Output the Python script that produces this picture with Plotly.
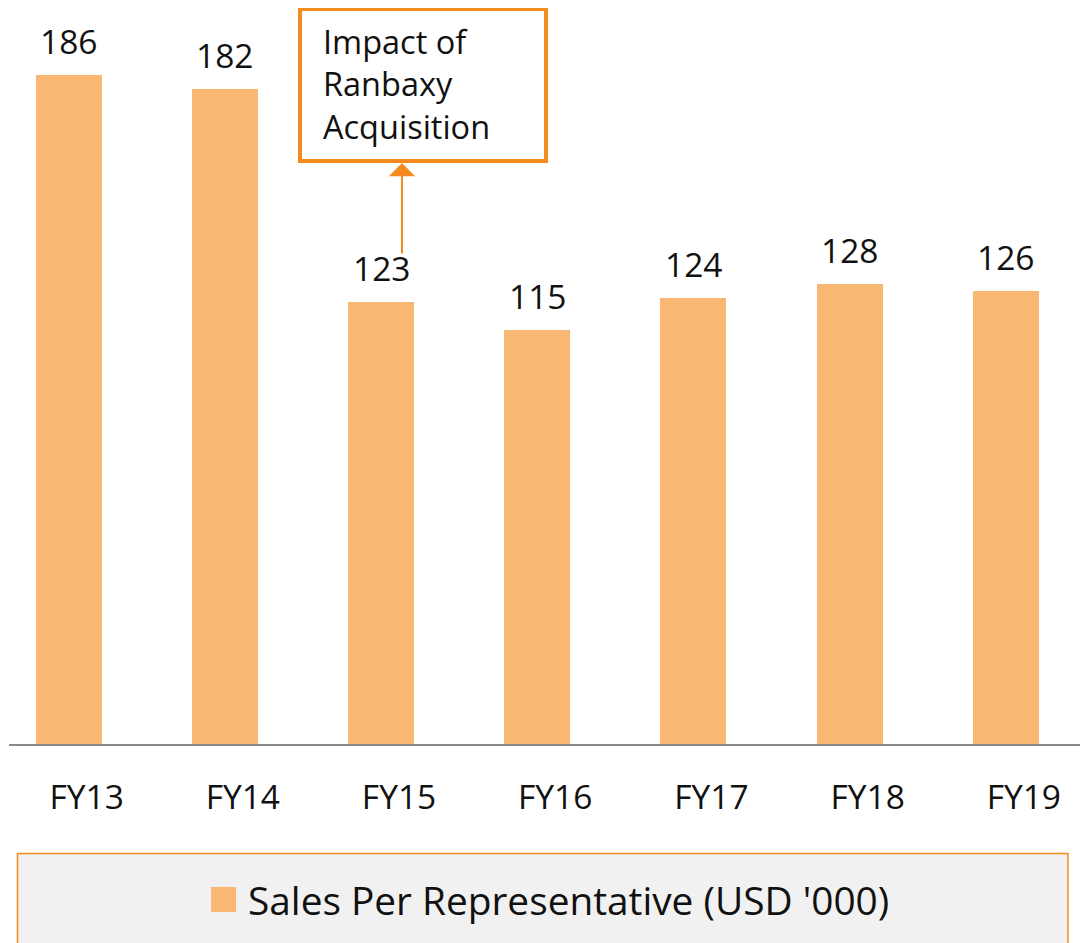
import plotly.graph_objects as go

categories = ["FY13", "FY14", "FY15", "FY16", "FY17", "FY18", "FY19"]
sales_per_rep = [186, 182, 123, 115, 124, 128, 126]
series_name = "Sales Per Representative (USD '000)"
callout_text = "Impact of<br>Ranbaxy<br>Acquisition"

BAR_COLOR = "#F9B774"
ORANGE = "#F58A1F"
TEXT = "#111111"
FONT = "Open Sans"
BAR_W = 0.4225
BAR_SHIFT = -0.115  # bars sit slightly left of the category labels

# page geometry (page has an 8px body margin)
OFF = 8
L, R, T, B = 1, 0, 0, 207
PLOT_LEFT = OFF + L
PLOT_TOP = OFF + T
PLOT_W = 1088 - L - R
PLOT_H = 943 - T - B
PLOT_BOTTOM = PLOT_TOP + PLOT_H


def px(xp):
    return (xp - PLOT_LEFT) / PLOT_W


def py(yp):
    return (PLOT_BOTTOM - yp) / PLOT_H


fig = go.Figure()
fig.add_trace(go.Bar(
    x=list(range(len(categories))),
    y=sales_per_rep,
    width=BAR_W,
    offset=BAR_SHIFT - BAR_W / 2,
    marker=dict(color=BAR_COLOR, line=dict(width=0)),
    name=series_name,
    showlegend=False,
    hoverinfo="skip",
))

# data labels
for i, v in enumerate(sales_per_rep):
    fig.add_annotation(x=i + BAR_SHIFT, y=v, xref="x", yref="y", text=str(v),
                       showarrow=False, yanchor="bottom", yshift=9,
                       font=dict(family=FONT, size=33.5, color=TEXT))

# callout box
fig.add_shape(type="rect", xref="paper", yref="paper",
              x0=px(300), x1=px(546), y0=py(161), y1=py(9),
              line=dict(color=ORANGE, width=4), fillcolor="white", layer="above")
fig.add_annotation(xref="paper", yref="paper", x=px(321), y=py(84),
                   xanchor="left", yanchor="middle", align="left",
                   text=callout_text, showarrow=False,
                   font=dict(family=FONT, size=32.5, color=TEXT))
# arrow
fig.add_annotation(xref="paper", yref="paper", x=px(402), y=py(163),
                   ax=0, ay=92, axref="pixel", ayref="pixel",
                   text="", showarrow=True, arrowhead=1, arrowsize=2.2,
                   arrowwidth=2, arrowcolor=ORANGE, standoff=0)

# legend box (manual)
fig.add_shape(type="rect", xref="paper", yref="paper",
              x0=px(17.5), x1=px(1068), y0=py(960), y1=py(853.5),
              line=dict(color=ORANGE, width=1.5), fillcolor="#F1F1F1", layer="below")
fig.add_shape(type="rect", xref="paper", yref="paper",
              x0=px(211), x1=px(236), y0=py(912), y1=py(887),
              line=dict(width=0), fillcolor=BAR_COLOR)
fig.add_annotation(xref="paper", yref="paper", x=px(246), y=py(900),
                   xanchor="left", yanchor="middle", text=series_name,
                   showarrow=False, font=dict(family=FONT, size=38.8, color=TEXT))

fig.update_layout(
    width=1088, height=943,
    margin=dict(l=L, r=R, t=T, b=B),
    paper_bgcolor="white", plot_bgcolor="white",
    bargap=0,
    showlegend=False,
    font=dict(family=FONT, color=TEXT),
)
fig.update_xaxes(
    tickmode="array", tickvals=list(range(len(categories))), ticktext=categories,
    range=[-0.497, -0.497 + PLOT_W / 156.2], showgrid=False, zeroline=False,
    showline=True, linecolor="#898989", linewidth=2,
    ticks="", ticklabelstandoff=23,
    tickfont=dict(family=FONT, size=33.5, color=TEXT),
)
fig.update_yaxes(range=[0, (PLOT_BOTTOM - PLOT_TOP) / 3.597], showgrid=False,
                 zeroline=False, showticklabels=False, showline=False)

fig.write_html("out.html")
